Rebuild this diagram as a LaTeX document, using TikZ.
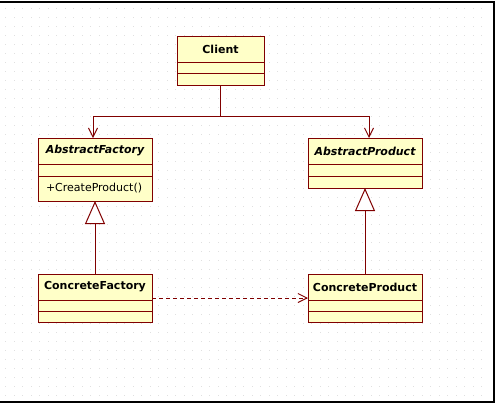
\documentclass[tikz,border=0pt]{standalone}
\usepackage{fontspec}
\setmainfont{DejaVu Sans}
\usetikzlibrary{arrows.meta,positioning}
\definecolor{umlfill}{HTML}{FFFFC8}
\definecolor{umlline}{HTML}{800000}
\begin{document}
\begin{tikzpicture}[x=1pt,y=-1pt,
cls/.style={draw=umlline,fill=umlfill,line width=1pt,outer sep=0pt,inner sep=0pt,minimum width=114pt,font=\fontsize{11}{13}\selectfont},
clsname/.style={cls,minimum height=26pt,font=\fontsize{11}{13}\selectfont\bfseries},
comp/.style={cls,minimum height=11pt},
link/.style={umlline,line width=1pt},
assoc/.style={link,-{Straight Barb[length=9pt,width=9pt]}},
inherit/.style={link,-{Triangle[open,fill=white,length=23pt,width=20pt]}},
dep/.style={link,dash pattern=on 4pt off 3pt,-{Straight Barb[length=9pt,width=9pt]}}]
\useasboundingbox (0,0) rectangle (497,408);
\foreach \i in {0,...,56} \foreach \j in {0,...,43}
\fill[black!12] (5+8.5*\i,8+9*\j) rectangle ++(1,1);
\draw[line width=1.2pt] (0,2)--(494,2)--(494,402)--(0,402);

\node[clsname,minimum width=87pt,anchor=north west] (Cn) at (177,36) {Client};
\node[comp,minimum width=87pt,below=0pt of Cn] (Ca) {};
\node[comp,minimum width=87pt,minimum height=12pt,below=0pt of Ca] (Co) {};
\node[clsname,anchor=north west] (AFn) at (38,138) {\itshape AbstractFactory};
\node[comp,minimum height=12pt,below=0pt of AFn] (AFa) {};
\node[comp,minimum height=25pt,inner xsep=8pt,text width=98pt,align=left,below=0pt of AFa] (AFo) {+CreateProduct()};
\node[clsname,anchor=north west] (APn) at (308,138) {\itshape AbstractProduct};
\node[comp,minimum height=12pt,below=0pt of APn] (APa) {};
\node[comp,minimum height=12pt,below=0pt of APa] (APo) {};
\node[clsname,anchor=north west] (CFn) at (38,274) {ConcreteFactory};
\node[comp,below=0pt of CFn] (CFa) {};
\node[comp,below=0pt of CFa] (CFo) {};
\node[clsname,anchor=north west] (CPn) at (308,274) {ConcreteProduct};
\node[comp,below=0pt of CPn] (CPa) {};
\node[comp,below=0pt of CPa] (CPo) {};

\coordinate (J) at (220.5,116);
\draw[link] (Co.south)--(J);
\draw[assoc] (J) -| ([xshift=-2pt]AFn.north);
\draw[assoc] (J) -| ([xshift=4pt]APn.north);
\draw[inherit] (CFn.north)--(AFo.south);
\draw[inherit] (CPn.north)--(APo.south);
\draw[dep] ([yshift=2pt]CFn.south east)--([yshift=2pt]CPn.south west);
\end{tikzpicture}
\end{document}
